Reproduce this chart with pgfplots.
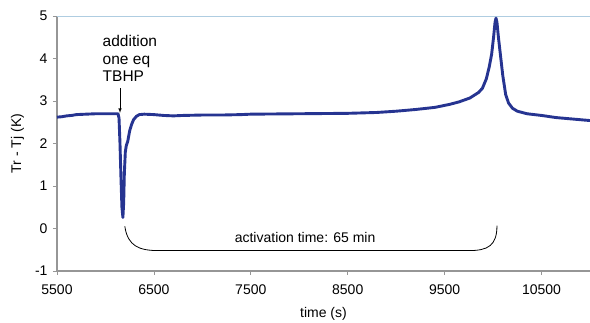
\documentclass[border=0pt]{standalone}
\usepackage{pgfplots}
\pgfplotsset{compat=1.18}
\usepackage{fontspec}
\setmainfont{Liberation Sans}
\definecolor{curve}{RGB}{38,52,145}
\definecolor{axgray}{RGB}{150,150,150}
\definecolor{gridblue}{RGB}{175,205,225}
\begin{document}
\begin{tikzpicture}
\useasboundingbox (-57pt,-52pt) rectangle (533pt,271pt);
\begin{axis}[
  at={(0,0)}, anchor=south west,
  scale only axis, width=533pt, height=255pt,
  xmin=5500, xmax=11000, ymin=-1, ymax=5,
  axis lines*=left,
  axis line style={axgray, line width=1.2pt},
  xtick={5500,6500,7500,8500,9500,10500},
  ytick={-1,0,1,2,3,4,5},
  scaled x ticks=false,
  tick align=outside,
  major tick length=4pt,
  tick style={axgray, line width=0.8pt},
  x tick label style={yshift=-6pt},
  y tick label style={xshift=-2pt},
  /pgf/number format/assume math mode=true,
  /pgf/number format/set thousands separator={},
  ticklabel style={font=\fontsize{14}{16}\selectfont},
  label style={font=\fontsize{14}{16}\selectfont},
  xlabel={time (s)},
  ylabel={Tr - Tj (K)},
  xlabel style={yshift=-6pt},
  ylabel style={yshift=4pt},
  clip=false,
]
\draw[gridblue, line width=1pt] (rel axis cs:0,1) -- (rel axis cs:1,1);
\draw[gridblue!60!axgray, line width=0.6pt] (rel axis cs:1,0) -- (rel axis cs:1,1);
\addplot[curve, line width=2.9pt, line join=round, no markers] coordinates {
(5500,2.62) (5550,2.63) (5600,2.65) (5650,2.66) (5700,2.68) (5800,2.69)
(5900,2.70) (6000,2.70) (6100,2.70) (6130,2.70) (6140,2.60) (6150,2.00)
(6160,1.20) (6170,0.50) (6180,0.26) (6188,0.60) (6195,1.30) (6205,1.80)
(6215,1.95) (6230,2.05) (6250,2.30) (6270,2.45) (6290,2.56) (6320,2.64)
(6350,2.68) (6400,2.69) (6500,2.68) (6600,2.66) (6700,2.65) (6800,2.66)
(7000,2.67) (7200,2.67) (7400,2.68) (7500,2.69) (8000,2.70) (8500,2.71)
(8800,2.73) (9000,2.76) (9200,2.80) (9400,2.85) (9550,2.92) (9650,2.98)
(9760,3.07) (9850,3.20) (9890,3.30) (9930,3.52) (9960,3.80) (9985,4.10)
(10005,4.50) (10020,4.85) (10030,4.95) (10040,4.85) (10055,4.50) (10075,4.10)
(10100,3.60) (10130,3.15) (10160,2.95) (10200,2.83) (10250,2.76) (10350,2.70)
(10500,2.66) (10650,2.61) (10800,2.58) (10900,2.56) (11000,2.54)
};
\node[anchor=north west, align=left, inner sep=0pt, font=\fontsize{15.5}{17.5}\selectfont]
  at (axis cs:5970,4.55) {addition\\one eq\\TBHP};
\draw[-latex, black, line width=0.6pt] (axis cs:6150,3.3) -- (axis cs:6150,2.72);
\draw[black, line width=0.8pt] (axis cs:6200,0.05) .. controls (axis cs:6230,-0.42) and (axis cs:6350,-0.52) .. (axis cs:6550,-0.52)
  -- (axis cs:9750,-0.52) .. controls (axis cs:9950,-0.52) and (axis cs:10040,-0.40) .. (axis cs:10040,0.07);
\node[font=\fontsize{14}{16}\selectfont] at (axis cs:8060,-0.21) {activation time: 65 min};
\end{axis}
\end{tikzpicture}
\end{document}
